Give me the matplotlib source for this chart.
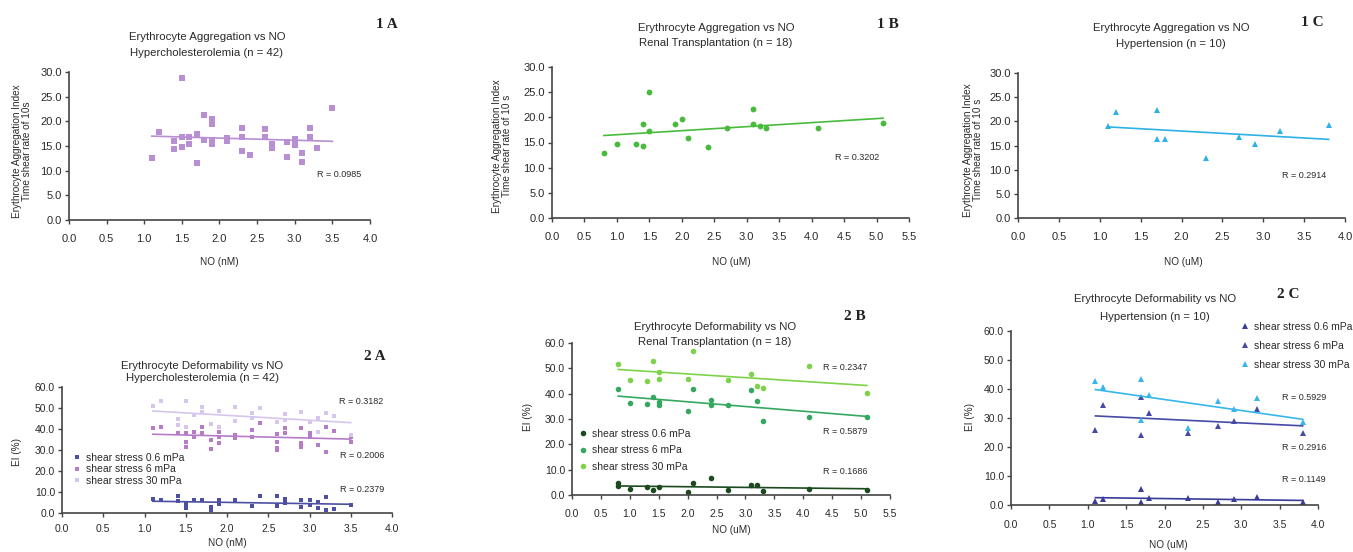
import numpy as np
import matplotlib.pyplot as plt
from matplotlib.ticker import FormatStrFormatter, MultipleLocator

plt.rcParams['font.family'] = ['Liberation Sans', 'DejaVu Sans']

# ---- 1A: aggregation, hypercholesterolemia ----
agg_a_x = [1.1, 1.2, 1.4, 1.4, 1.5, 1.5, 1.5, 1.6, 1.6, 1.7, 1.7, 1.8, 1.8, 1.9, 1.9, 1.9, 1.9,
           2.1, 2.1, 2.3, 2.3, 2.3, 2.4, 2.6, 2.6, 2.7, 2.7, 2.9, 2.9, 3.0, 3.0, 3.1, 3.1,
           3.2, 3.2, 3.3, 3.5]
agg_a_y = [12.6, 17.9, 16.0, 14.4, 28.7, 16.9, 14.7, 16.9, 15.4, 17.4, 11.5, 21.3, 16.2, 20.4, 19.5, 16.2, 15.4,
           16.7, 16.0, 18.6, 16.9, 14.0, 13.2, 18.4, 16.9, 15.5, 14.5, 15.9, 12.8, 16.4, 15.2, 13.6, 11.8,
           18.6, 16.9, 14.5, 22.8]

# ---- 1B: aggregation, renal transplantation ----
agg_b_x = [0.8, 1.0, 1.3, 1.4, 1.4, 1.5, 1.5, 1.9, 2.0, 2.1, 2.4, 2.7, 3.1, 3.1, 3.2, 3.3, 4.1, 5.1]
agg_b_y = [13.0, 14.7, 14.7, 18.7, 14.4, 25.0, 17.3, 18.6, 19.6, 15.8, 14.2, 17.8, 21.7, 18.6, 18.3, 17.8, 17.9, 18.9]

# ---- 1C: aggregation, hypertension ----
agg_c_x = [1.1, 1.2, 1.7, 1.7, 1.8, 2.3, 2.7, 2.9, 3.2, 3.8]
agg_c_y = [19.0, 22.0, 22.3, 16.3, 16.3, 12.5, 16.8, 15.3, 17.9, 19.2]

# ---- 2A: deformability, hypercholesterolemia ----
def_a_x_06 = [1.1, 1.2, 1.4, 1.4, 1.5, 1.5, 1.6, 1.7, 1.8, 1.8, 1.9, 1.9, 2.1, 2.3, 2.4, 2.6, 2.6,
              2.7, 2.7, 2.9, 2.9, 3.0, 3.0, 3.1, 3.1, 3.2, 3.2, 3.3, 3.5]
def_a_y_06 = [6.6, 6.0, 7.9, 5.5, 4.3, 2.4, 6.3, 6.0, 2.7, 1.6, 6.0, 4.3, 6.0, 3.5, 7.9, 7.9, 3.2,
              6.6, 4.7, 6.3, 2.8, 6.3, 3.9, 5.1, 2.4, 7.4, 1.6, 1.9, 3.9]
def_a_x_6 = [1.1, 1.2, 1.4, 1.5, 1.5, 1.5, 1.6, 1.6, 1.7, 1.7, 1.8, 1.8, 1.9, 1.9, 1.9, 2.1, 2.1,
             2.3, 2.3, 2.4, 2.6, 2.6, 2.6, 2.6, 2.7, 2.7, 2.9, 2.9, 2.9, 3.0, 3.0, 3.1, 3.2, 3.2,
             3.3, 3.5, 3.5]
def_a_y_6 = [40.3, 41.1, 37.9, 38.2, 34.0, 31.3, 38.7, 36.3, 41.1, 38.2, 34.8, 30.4, 38.7, 36.3, 33.5, 37.1, 35.8,
             39.5, 36.3, 42.9, 37.6, 34.0, 31.1, 30.0, 40.3, 38.2, 40.3, 33.2, 31.3, 37.9, 36.0, 32.4, 41.1, 29.2,
             39.2, 36.3, 34.0]
def_a_x_30 = [1.1, 1.2, 1.4, 1.4, 1.5, 1.5, 1.6, 1.7, 1.7, 1.8, 1.9, 1.9, 2.1, 2.1, 2.3, 2.3, 2.4,
              2.6, 2.7, 2.7, 2.9, 3.0, 3.1, 3.1, 3.2, 3.3, 3.5]
def_a_y_30 = [50.9, 53.4, 45.0, 42.0, 53.4, 41.1, 46.6, 50.6, 47.9, 42.6, 48.7, 41.1, 50.6, 43.8, 47.4, 45.3, 49.8,
              43.4, 47.0, 44.5, 48.2, 43.1, 45.3, 38.7, 47.7, 46.4, 37.1]

# ---- 2B: deformability, renal transplantation ----
def_b_x_06 = [0.8, 0.8, 1.0, 1.3, 1.4, 1.5, 2.0, 2.1, 2.4, 2.7, 3.1, 3.2, 3.3, 4.1, 5.1]
def_b_y_06 = [4.9, 3.5, 2.2, 3.3, 2.0, 3.3, 1.0, 4.9, 6.8, 2.0, 3.9, 3.9, 1.6, 2.4, 2.0]
def_b_x_6 = [0.8, 1.0, 1.3, 1.4, 1.5, 1.5, 2.0, 2.1, 2.4, 2.4, 2.7, 3.1, 3.2, 3.3, 4.1, 5.1]
def_b_y_6 = [42.0, 36.4, 35.8, 38.7, 36.8, 35.4, 33.2, 42.0, 37.4, 35.4, 35.7, 41.4, 37.0, 29.3, 30.6, 30.6]
def_b_x_30 = [0.8, 1.0, 1.3, 1.4, 1.5, 1.5, 2.0, 2.1, 2.7, 3.1, 3.2, 3.3, 4.1, 5.1]
def_b_y_30 = [51.9, 45.3, 45.0, 52.8, 48.6, 45.6, 45.9, 56.8, 45.3, 47.9, 42.9, 42.4, 50.8, 40.3]

# ---- 2C: deformability, hypertension ----
def_c_x = [1.1, 1.2, 1.7, 1.7, 1.8, 2.3, 2.7, 2.9, 3.2, 3.8]
def_c_y_06 = [1.5, 2.1, 5.4, 1.1, 2.3, 2.3, 1.1, 2.0, 2.6, 0.9]
def_c_y_6 = [26.0, 34.6, 37.3, 24.1, 31.8, 24.7, 27.3, 29.0, 33.0, 24.9]
def_c_y_30 = [42.7, 40.7, 43.4, 29.3, 37.9, 26.4, 35.9, 33.0, 36.9, 28.5]

series_labels = ['shear stress 0.6 mPa', 'shear stress 6 mPa', 'shear stress 30 mPa']

W, H = 1353, 552
fig = plt.figure(figsize=(W / 100, H / 100), dpi=100)
TXT = '#2a2a2a'


def fx(px):
    return px / W


def fy(py):
    return 1 - py / H


def make_axes(left, top, right, bottom, xmax, ymax, ystep, xpad, lsize):
    ax = fig.add_axes([fx(left), fy(bottom), (right - left) / W, (bottom - top) / H])
    ax.set_xlim(0, xmax)
    ax.set_ylim(0, ymax)
    ax.xaxis.set_major_locator(MultipleLocator(0.5))
    ax.yaxis.set_major_locator(MultipleLocator(ystep))
    ax.xaxis.set_major_formatter(FormatStrFormatter('%.1f'))
    ax.yaxis.set_major_formatter(FormatStrFormatter('%.1f'))
    for s in ['top', 'right']:
        ax.spines[s].set_visible(False)
    for s in ['left', 'bottom']:
        ax.spines[s].set_color('#444444')
        ax.spines[s].set_linewidth(1.2)
    ax.tick_params(axis='both', direction='out', length=3, width=1, color='#444444',
                   labelsize=lsize, labelcolor=TXT)
    ax.tick_params(axis='x', pad=xpad)
    ax.tick_params(axis='y', pad=2)
    ax.patch.set_alpha(0)
    return ax


def scatter_fit(ax, x, y, color, marker, ms, label=None):
    x = np.asarray(x)
    y = np.asarray(y)
    h, = ax.plot(x, y, linestyle='none', marker=marker, ms=ms, color=color,
                 markeredgewidth=0, label=label, clip_on=False)
    k, b = np.polyfit(x, y, 1)
    xs = np.array([x.min(), x.max()])
    ax.plot(xs, k * xs + b, color=color, lw=1.2)
    return h


def title(cx, y1, y2, l1, l2):
    fig.text(fx(cx), fy(y1), l1, ha='center', va='center', fontsize=8.2, color=TXT)
    fig.text(fx(cx), fy(y2), l2, ha='center', va='center', fontsize=8.2, color=TXT)


def tag(x, y, s):
    fig.text(fx(x), fy(y), s, ha='center', va='center', fontsize=11, weight='bold',
             family='Liberation Serif', color='#222222')


def label(x, y, s, rot=0):
    fig.text(fx(x), fy(y), s, ha='center', va='center', fontsize=7.2, color=TXT,
             rotation=rot, linespacing=1.0, multialignment='center')


def rtext(x, y, s):
    fig.text(fx(x), fy(y), s, ha='left', va='center', fontsize=6.5, color=TXT)


def legend(ax, hs, left, top, spacing):
    ax.legend(handles=hs, loc='upper left', bbox_to_anchor=(fx(left), fy(top)),
              bbox_transform=fig.transFigure, frameon=False, fontsize=7.5, borderpad=0,
              borderaxespad=0, handlelength=1, handletextpad=0.3, labelspacing=spacing,
              labelcolor=TXT)


# 1A
ax = make_axes(69, 72, 370, 220, 4.0, 30, 5, 7, 8)
scatter_fit(ax, agg_a_x, agg_a_y, '#b88fd2', 's', 4)
title(207, 37, 53, 'Erythrocyte Aggregation vs NO', 'Hypercholesterolemia (n = 42)')
tag(387, 25, '1 A')
label(22, 151, 'Erythrocyte Aggregation Index\nTime shear rate of 10s', 90)
label(219, 262, 'NO (nM)')
rtext(317, 174, 'R = 0.0985')

# 1B
ax = make_axes(552, 67, 909, 218, 5.5, 30, 5, 7, 8)
scatter_fit(ax, agg_b_x, agg_b_y, '#48bb3c', 'o', 4.2)
title(716, 28, 43, 'Erythrocyte Aggregation vs NO', 'Renal Transplantation (n = 18)')
tag(888, 25, '1 B')
label(502, 146, 'Erythrocyte Aggregation Index\nTime shear rate of 10 s', 90)
label(731, 262, 'NO (uM)')
rtext(835, 157, 'R = 0.3202')

# 1C
ax = make_axes(1018, 73, 1345, 218, 4.0, 30, 5, 7, 8)
scatter_fit(ax, agg_c_x, agg_c_y, '#2fb0e6', '^', 5)
title(1171, 28, 44, 'Erythrocyte Aggregation vs NO', 'Hypertension (n = 10)')
tag(1312, 22, '1 C')
label(973, 150, 'Erythrocyte Aggregation Index\nTime shear rate of 10 s', 90)
label(1183, 262, 'NO (uM)')
rtext(1282, 175, 'R = 0.2914')

# 2A
ax = make_axes(62, 387, 392, 513, 4.0, 60, 10, 5, 7.5)
hs = [scatter_fit(ax, def_a_x_06, def_a_y_06, '#4d4fa3', 's', 3.5, series_labels[0]),
      scatter_fit(ax, def_a_x_6, def_a_y_6, '#b67cc8', 's', 3.5, series_labels[1]),
      scatter_fit(ax, def_a_x_30, def_a_y_30, '#d6c6ee', 's', 3.5, series_labels[2])]
legend(ax, hs, 72, 453, 0.12)
title(202, 366, 378, 'Erythrocyte Deformability vs NO', 'Hypercholesterolemia (n = 42)')
tag(375, 357, '2 A')
label(17, 452, 'EI (%)', 90)
label(227, 543, 'NO (nM)')
rtext(339, 401, 'R = 0.3182')
rtext(340, 456, 'R = 0.2006')
rtext(340, 490, 'R = 0.2379')

# 2B
ax = make_axes(572, 343, 890, 495, 5.5, 60, 10, 7, 7.5)
hs = [scatter_fit(ax, def_b_x_06, def_b_y_06, '#1b4a1f', 'o', 4, series_labels[0]),
      scatter_fit(ax, def_b_x_6, def_b_y_6, '#35a860', 'o', 4, series_labels[1]),
      scatter_fit(ax, def_b_x_30, def_b_y_30, '#7ed24a', 'o', 4, series_labels[2])]
legend(ax, hs, 578, 429, 0.62)
title(715, 327, 342, 'Erythrocyte Deformability vs NO', 'Renal Transplantation (n = 18)')
tag(855, 317, '2 B')
label(528, 417, 'EI (%)', 90)
label(731, 530, 'NO (uM)')
rtext(823, 368, 'R = 0.2347')
rtext(823, 432, 'R = 0.5879')
rtext(823, 472, 'R = 0.1686')

# 2C
ax = make_axes(1011, 331, 1318, 505, 4.0, 60, 10, 8, 7.5)
hs = [scatter_fit(ax, def_c_x, def_c_y_06, '#3a3c98', '^', 5, series_labels[0]),
      scatter_fit(ax, def_c_x, def_c_y_6, '#4549a8', '^', 5, series_labels[1]),
      scatter_fit(ax, def_c_x, def_c_y_30, '#36b6ec', '^', 5, series_labels[2])]
legend(ax, hs, 1240, 322, 0.85)
title(1155, 299, 317, 'Erythrocyte Deformability vs NO', 'Hypertension (n = 10)')
tag(1288, 295, '2 C')
label(970, 417, 'EI (%)', 90)
label(1168, 545, 'NO (uM)')
rtext(1282, 397, 'R = 0.5929')
rtext(1282, 447, 'R = 0.2916')
rtext(1282, 480, 'R = 0.1149')

fig.savefig('out.png', dpi=100)
